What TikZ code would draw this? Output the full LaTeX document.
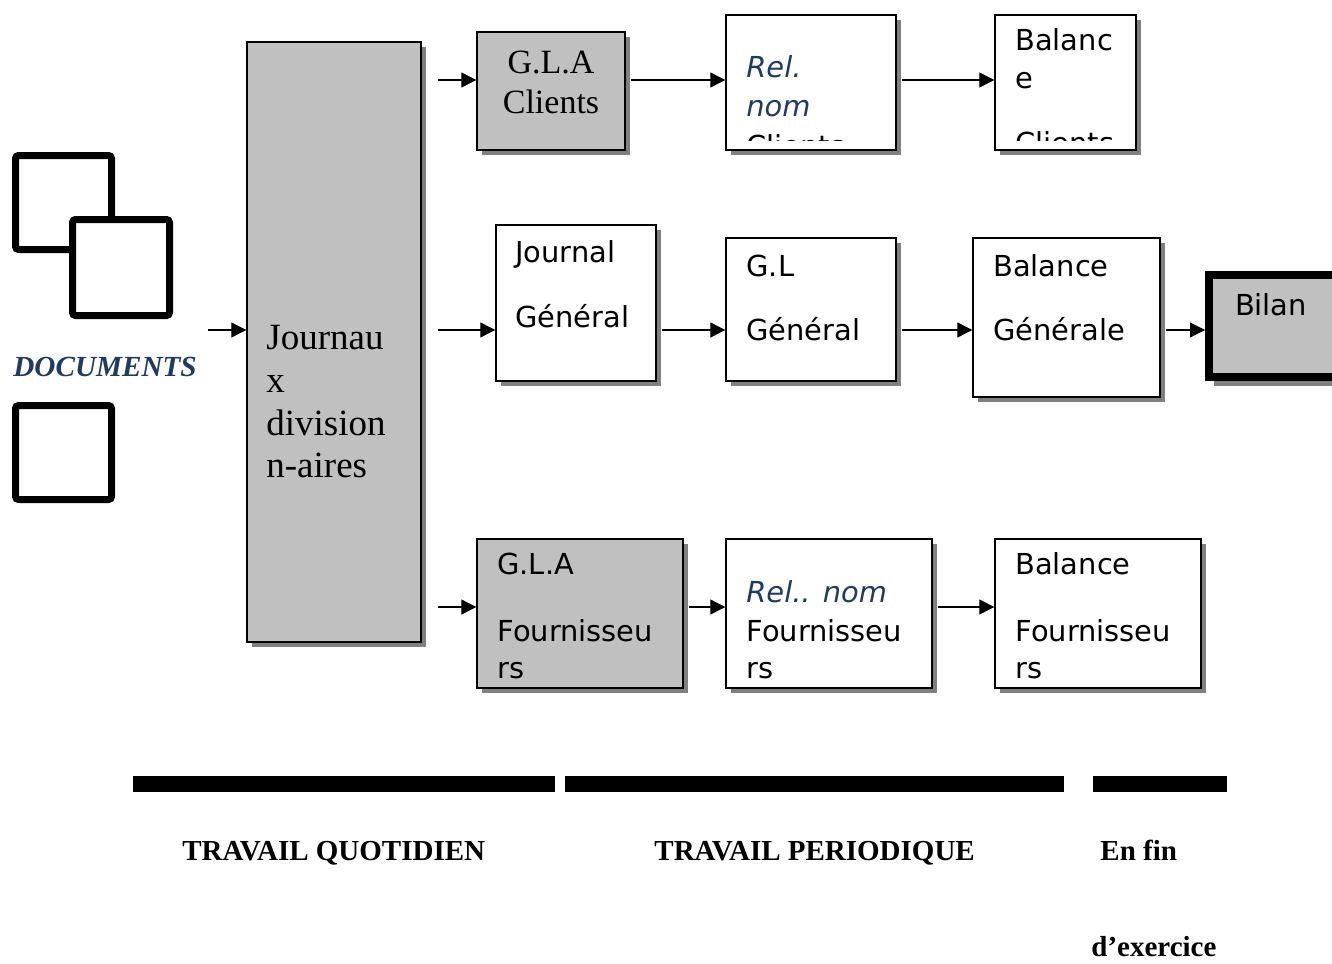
\documentclass[tikz,border=0pt]{standalone}
\usepackage{fontspec}
\setmainfont{Liberation Serif}
\setsansfont{DejaVu Sans}
\usetikzlibrary{arrows.meta,shadows,calc}
\definecolor{boxgray}{HTML}{C0C0C0}
\definecolor{shgray}{HTML}{808080}
\definecolor{docblue}{HTML}{1F3B63}
\newcommand\sansf{\sffamily\fontsize{14.45}{19}\selectfont}
\newcommand\bluef{\sffamily\itshape\fontsize{14.45}{19}\selectfont\color{docblue}}
\newcommand\serfbig{\rmfamily\fontsize{18.5}{21.5}\selectfont}
\newcommand\serfmid{\rmfamily\fontsize{17}{18.5}\selectfont}
\newcommand\labf{\rmfamily\bfseries\fontsize{14.5}{17}\selectfont}
\begin{document}
\begin{tikzpicture}[x=0.5pt,y=-0.5pt,
  shad/.style={drop shadow={shadow xshift=2.5pt,shadow yshift=-2.5pt,fill=shgray,opacity=1}},
  box/.style={draw,line width=0.7pt,fill=white,inner sep=0pt,shad},
  graybox/.style={box,fill=boxgray},
  txt/.style={anchor=base west,inner sep=0pt,font=\sansf},
  btxt/.style={anchor=base west,inner sep=0pt,font=\bluef},
  arr/.style={line width=0.55pt,-{Triangle[length=7.5pt,width=7.5pt]}},
  docsq/.style={draw,line width=3.5pt,rounded corners=1.5pt,fill=white},
  bar/.style={fill=black},
  lab/.style={anchor=base west,inner sep=0pt,font=\labf}]
\useasboundingbox (0,0) rectangle (1332,963);

% documents
\draw[docsq] (15.5,155.5) rectangle (111.5,249.5);
\draw[docsq] (72.5,219.5) rectangle (169.5,315.5);
\draw[docsq] (15.5,405.5) rectangle (111.5,499.5);
\node[anchor=base west,inner sep=0pt,font=\rmfamily\bfseries\itshape\fontsize{14.6}{17}\selectfont,text=docblue] (docs) at (13,376) {DOCUMENTS};

% boxes
\node[graybox,minimum width=87pt,minimum height=300pt] (J) at (334,342) {};
\node[graybox,minimum width=74pt,minimum height=59pt] (glac) at (551,91) {};
\node[box,minimum width=85pt,minimum height=67.5pt] (relc) at (811,82.5) {};
\node[box,minimum width=70.5pt,minimum height=67.5pt] (balc) at (1065.5,82.5) {};
\node[box,minimum width=80pt,minimum height=78pt] (jg) at (576,303) {};
\node[box,minimum width=85pt,minimum height=71.5pt] (glg) at (811,309.5) {};
\node[box,minimum width=93.5pt,minimum height=79.5pt] (balg) at (1066.5,317.5) {};
\node[draw,line width=4pt,fill=boxgray,inner sep=0pt,minimum width=65.5pt,minimum height=51pt,
  drop shadow={shadow xshift=2.5pt,shadow yshift=-4.5pt,fill=shgray,opacity=1}] (bilan) at (1274.5,326) {};
\node[graybox,minimum width=103pt,minimum height=74.5pt] (glaf) at (580,613.5) {};
\node[box,minimum width=103pt,minimum height=74.5pt] (relf) at (829,613.5) {};
\node[box,minimum width=103pt,minimum height=74.5pt] (balf) at (1098,613.5) {};

% texts
\node[anchor=base west,inner sep=0pt,font=\serfbig] (jt1) at (266,349) {Journau};
\node[anchor=base west,inner sep=0pt,font=\serfbig] (jt2) at (266,392) {x};
\node[anchor=base west,inner sep=0pt,font=\serfbig] (jt3) at (266,435) {division};
\node[anchor=base west,inner sep=0pt,font=\serfbig] (jt4) at (266,477) {n-aires};

\node[anchor=base,inner sep=0pt,font=\serfmid] (glact1) at (551,74) {G.L.A};
\node[anchor=base,inner sep=0pt,font=\serfmid] (glact2) at (551,113) {Clients};

\node[btxt] (relct1) at (746,78) {Rel.};
\node[btxt] (relct2) at (746,117) {nom};
\begin{scope}
\clip (726,15) rectangle (896,140);
\node[txt] (relct3) at (746,156) {Clients};
\end{scope}

\node[txt] (balct1) at (1015,51) {Balanc};
\node[txt] (balct2) at (1015,89) {e};
\begin{scope}
\clip (995,15) rectangle (1136,140);
\node[txt] (balct3) at (1015,154) {Clients};
\end{scope}

\node[txt] (jgt1) at (515,262) {Journal};
\node[txt] (jgt2) at (515,327) {Général};
\node[txt] (glgt1) at (746,276) {G.L};
\node[txt] (glgt2) at (746,340) {Général};
\node[txt] (balgt1) at (993,276) {Balance};
\node[txt] (balgt2) at (993,340) {Générale};
\node[anchor=base,inner sep=0pt,font=\sansf] (bilant) at (1271,315) {Bilan};

\node[txt] (glaft1) at (497,574) {G.L.A};
\node[txt] (glaft2) at (497,641) {Fournisseu};
\node[txt] (glaft3) at (497,678) {rs};
\node[btxt] (relft1) at (746,602) {Rel.. nom};
\node[txt] (relft2) at (746,641) {Fournisseu};
\node[txt] (relft3) at (746,678) {rs};
\node[txt] (balft1) at (1015,574) {Balance};
\node[txt] (balft2) at (1015,641) {Fournisseu};
\node[txt] (balft3) at (1015,678) {rs};

% connectors
\coordinate (d0) at (208,330);
\coordinate (r1) at (438,80);
\coordinate (r2) at (438,330);
\coordinate (r3) at (438,607);
\draw[arr] (d0) -- (J.west |- d0);
\draw[arr] (r1) -- (glac.west |- r1);
\draw[arr] ($(glac.east |- r1)+(5,0)$) -- (relc.west |- r1);
\draw[arr] ($(relc.east |- r1)+(5,0)$) -- (balc.west |- r1);
\draw[arr] (r2) -- (jg.west |- r2);
\draw[arr] ($(jg.east |- r2)+(5,0)$) -- (glg.west |- r2);
\draw[arr] ($(glg.east |- r2)+(5,0)$) -- (balg.west |- r2);
\draw[arr] ($(balg.east |- r2)+(5,0)$) -- (bilan.west |- r2);
\draw[arr] (r3) -- (glaf.west |- r3);
\draw[arr] ($(glaf.east |- r3)+(5,0)$) -- (relf.west |- r3);
\draw[arr] ($(relf.east |- r3)+(5,0)$) -- (balf.west |- r3);

% bars and labels
\fill[bar] (133,776) rectangle (555,792);
\fill[bar] (565,776) rectangle (1064,792);
\fill[bar] (1093,776) rectangle (1227,792);
\node[lab] (l1) at (182,860) {TRAVAIL QUOTIDIEN};
\node[lab] (l2) at (654,860) {TRAVAIL PERIODIQUE};
\node[lab] (l3) at (1100,860) {En fin};
\node[lab] (l4) at (1091,956) {d’exercice};
\end{tikzpicture}
\end{document}
